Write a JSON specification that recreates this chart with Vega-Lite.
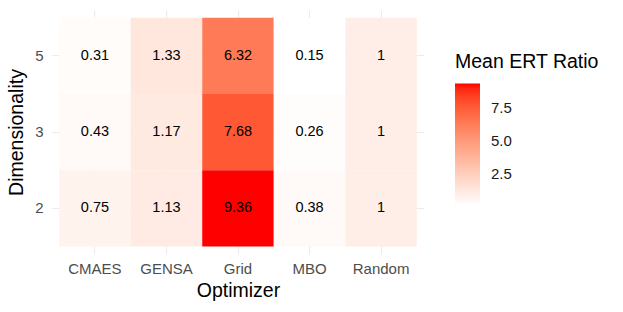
{
  "$schema": "https://vega.github.io/schema/vega-lite/v6.json",
  "autosize": "none",
  "width": 372,
  "height": 244,
  "padding": {"left": 52, "top": 10, "right": 199, "bottom": 58},
  "background": "white",
  "config": {
    "font": "Liberation Sans",
    "view": {"stroke": null}
  },
  "data": {
    "values": [
      {"optimizer": "CMAES", "dim": 5, "ratio": 0.31},
      {"optimizer": "CMAES", "dim": 3, "ratio": 0.43},
      {"optimizer": "CMAES", "dim": 2, "ratio": 0.75},
      {"optimizer": "GENSA", "dim": 5, "ratio": 1.33},
      {"optimizer": "GENSA", "dim": 3, "ratio": 1.17},
      {"optimizer": "GENSA", "dim": 2, "ratio": 1.13},
      {"optimizer": "Grid", "dim": 5, "ratio": 6.32},
      {"optimizer": "Grid", "dim": 3, "ratio": 7.68},
      {"optimizer": "Grid", "dim": 2, "ratio": 9.36},
      {"optimizer": "MBO", "dim": 5, "ratio": 0.15},
      {"optimizer": "MBO", "dim": 3, "ratio": 0.26},
      {"optimizer": "MBO", "dim": 2, "ratio": 0.38},
      {"optimizer": "Random", "dim": 5, "ratio": 1},
      {"optimizer": "Random", "dim": 3, "ratio": 1},
      {"optimizer": "Random", "dim": 2, "ratio": 1}
    ]
  },
  "encoding": {
    "x": {
      "field": "optimizer", "type": "nominal", "title": "Optimizer",
      "scale": {"paddingInner": 0, "paddingOuter": 0.1},
      "axis": {
        "labelAngle": 0, "domain": false, "ticks": false, "bandPosition": 0.5,
        "grid": true, "gridColor": "#EBEBEB", "gridWidth": 1.1, "zindex": 0,
        "labelFontSize": 15, "labelColor": "#4D4D4D", "labelPadding": 7,
        "titleFontSize": 19.5, "titleColor": "#000000", "titleFontWeight": "normal", "titlePadding": 5
      }
    },
    "y": {
      "field": "dim", "type": "ordinal", "title": "Dimensionality",
      "sort": "descending",
      "scale": {"paddingInner": 0, "paddingOuter": 0.1},
      "axis": {
        "domain": false, "ticks": false, "bandPosition": 0.5,
        "grid": true, "gridColor": "#EBEBEB", "gridWidth": 1.1, "zindex": 0,
        "labelFontSize": 15, "labelColor": "#4D4D4D", "labelPadding": 9,
        "titleFontSize": 19.5, "titleColor": "#000000", "titleFontWeight": "normal", "titlePadding": 8
      }
    }
  },
  "layer": [
    {
      "mark": {"type": "rect"},
      "encoding": {
        "color": {
          "field": "ratio", "type": "quantitative", "title": "Mean ERT Ratio",
          "scale": {"range": ["#FFFFFF", "#FF0000"], "interpolate": "lab", "zero": false, "nice": false},
          "legend": {
            "orient": "none", "legendX": 403, "legendY": 43,
            "values": [2.5, 5, 7.5], "format": ".1f",
            "gradientLength": 122, "gradientThickness": 25,
            "gradientStrokeWidth": 0,
            "titleFontSize": 19.5, "titleFontWeight": "normal", "titleColor": "#000000",
            "titlePadding": 11,
            "labelFontSize": 15, "labelColor": "#1A1A1A", "labelOffset": 11
          }
        }
      }
    },
    {
      "mark": {"type": "text", "fontSize": 14.5, "color": "#000000"},
      "encoding": {
        "text": {"field": "ratio", "type": "quantitative"}
      }
    }
  ]
}
